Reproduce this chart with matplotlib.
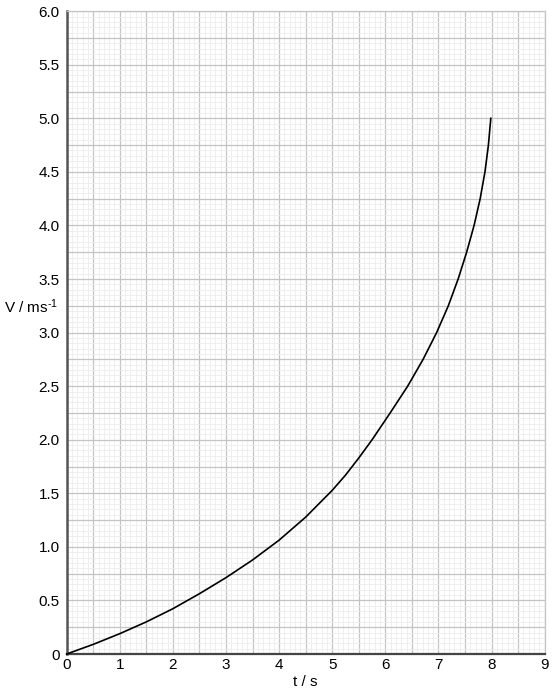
import numpy as np
import matplotlib.pyplot as plt
from matplotlib.ticker import MultipleLocator, FuncFormatter

plt.rcParams["font.family"] = ["Liberation Sans", "DejaVu Sans"]
plt.rcParams["mathtext.fontset"] = "custom"
plt.rcParams["mathtext.rm"] = "Liberation Sans"
plt.rcParams["mathtext.it"] = "Liberation Sans:italic"

# values
t_vals = [0, 0.5, 1.0, 1.5, 2.0, 2.5, 3.0, 3.5, 4.0, 4.5, 5.0, 5.25, 5.5, 5.75,
          6.09, 6.42, 6.71, 6.965, 7.185, 7.37, 7.53, 7.67, 7.785, 7.875, 7.94, 7.985]
v_vals = [0, 0.09, 0.19, 0.30, 0.423, 0.563, 0.713, 0.878, 1.063, 1.278, 1.528, 1.67, 1.83, 2.0,
          2.25, 2.5, 2.75, 3.0, 3.25, 3.5, 3.75, 4.0, 4.25, 4.5, 4.75, 5.0]

x_label = "t / s"
y_label = r"V / ms$^{\text{-1}}$"

fs = 11


def x_fmt(v, pos):
    if abs(v - round(v)) < 1e-6:
        return "%d" % round(v)
    return ""


def y_fmt(v, pos):
    if abs(v) < 1e-6:
        return "0"
    if abs(v * 2 - round(v * 2)) < 1e-6:
        return "%.1f" % v
    return ""


def main():
    fig = plt.figure(figsize=(5.53, 7.0), dpi=100)
    ax = fig.add_axes([0.1206, 0.0657, 0.985 - 0.1206, 0.984 - 0.0657])

    ax.set_xlim(0, 9)
    ax.set_ylim(0, 6)

    ax.xaxis.set_major_locator(MultipleLocator(0.5))
    ax.xaxis.set_minor_locator(MultipleLocator(0.1))
    ax.yaxis.set_major_locator(MultipleLocator(0.25))
    ax.yaxis.set_minor_locator(MultipleLocator(0.05))
    ax.xaxis.set_major_formatter(FuncFormatter(x_fmt))
    ax.yaxis.set_major_formatter(FuncFormatter(y_fmt))

    ax.grid(which="major", color="#c4c4c4", lw=0.9, zorder=0)
    ax.grid(which="minor", color="#ececec", lw=0.6, zorder=0)
    ax.set_axisbelow(True)

    ax.tick_params(which="both", length=0)
    ax.tick_params(axis="x", pad=3, labelsize=fs)
    ax.tick_params(axis="y", pad=5, labelsize=fs)

    for side in ["top", "right"]:
        ax.spines[side].set_color("#c4c4c4")
        ax.spines[side].set_linewidth(0.9)
    ax.spines["left"].set_color("#555555")
    ax.spines["left"].set_linewidth(1.8)
    ax.spines["bottom"].set_color("#444444")
    ax.spines["bottom"].set_linewidth(1.6)

    ax.plot(t_vals, v_vals, color="black", lw=1.2, zorder=5, clip_on=False,
            solid_joinstyle="round")

    ax.set_xlabel(x_label, fontsize=fs, labelpad=2)
    ax.set_ylabel(y_label, fontsize=fs, rotation=0, ha="right", va="center")
    ax.yaxis.set_label_coords(-0.018, 0.54)

    plt.savefig("out.png", dpi=100)


if __name__ == "__main__":
    main()
